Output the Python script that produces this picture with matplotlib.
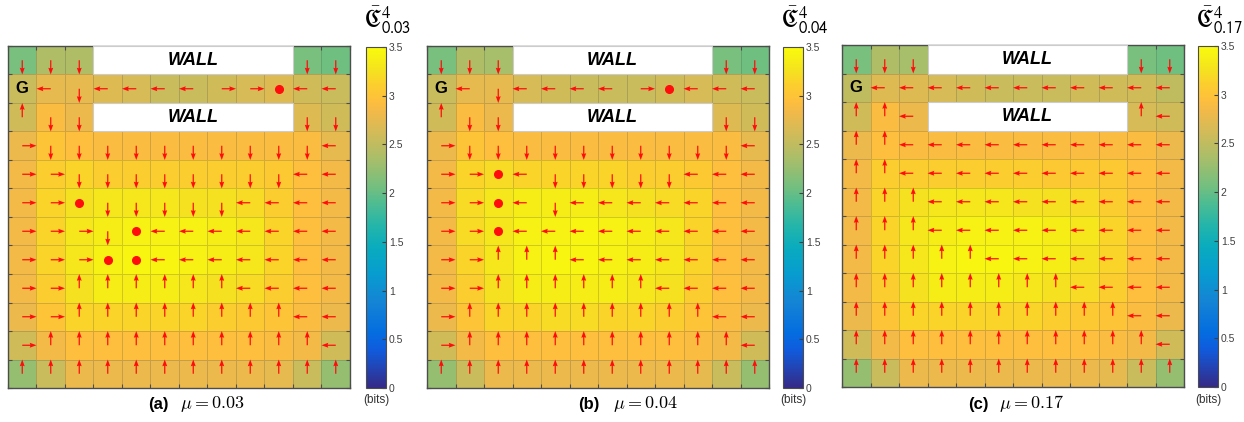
import numpy as np
import matplotlib
matplotlib.use("Agg")
import matplotlib.pyplot as plt
from matplotlib.colors import LinearSegmentedColormap
from matplotlib.patches import Rectangle
from matplotlib.ticker import FuncFormatter

# ---- data ----
W = np.nan
mu_values = ["0.03", "0.04", "0.17"]
panel_tags = ["(a)", "(b)", "(c)"]

# mean empowerment per cell (bits), NaN = wall
emp_a = [
    [2.1, 2.4, 2.4, W, W, W, W, W, W, W, 2.1, 2.05],
    [2.55, 2.75, 2.75, 2.7, 2.65, 2.55, 2.55, 2.6, 2.65, 2.7, 2.6, 2.55],
    [2.6, 2.9, 2.8, W, W, W, W, W, W, W, 2.7, 2.6],
    [2.8, 3.0, 2.95, 2.9, 2.9, 2.9, 2.9, 2.9, 2.9, 2.9, 2.9, 2.75],
    [2.85, 3.1, 3.15, 3.1, 3.1, 3.1, 3.1, 3.1, 3.1, 3.05, 2.95, 2.85],
    [2.85, 3.15, 3.25, 3.3, 3.3, 3.3, 3.25, 3.25, 3.2, 3.1, 2.95, 2.85],
    [2.85, 3.15, 3.3, 3.35, 3.4, 3.4, 3.4, 3.35, 3.3, 3.15, 2.95, 2.85],
    [2.85, 3.15, 3.3, 3.4, 3.45, 3.45, 3.4, 3.35, 3.3, 3.15, 2.95, 2.85],
    [2.85, 3.1, 3.25, 3.35, 3.35, 3.35, 3.3, 3.25, 3.2, 3.1, 2.95, 2.85],
    [2.8, 3.0, 3.15, 3.15, 3.15, 3.15, 3.15, 3.1, 3.05, 3.0, 2.9, 2.8],
    [2.6, 2.85, 2.95, 2.95, 2.95, 2.95, 2.95, 2.95, 2.95, 2.9, 2.85, 2.6],
    [2.25, 2.55, 2.8, 2.8, 2.8, 2.8, 2.8, 2.8, 2.8, 2.75, 2.55, 2.25],
]
emp_b = [
    [2.1, 2.4, 2.35, W, W, W, W, W, W, W, 2.1, 2.05],
    [2.55, 2.75, 2.75, 2.65, 2.6, 2.55, 2.55, 2.55, 2.6, 2.65, 2.6, 2.55],
    [2.6, 2.9, 2.8, W, W, W, W, W, W, W, 2.7, 2.6],
    [2.8, 3.0, 2.95, 2.9, 2.9, 2.9, 2.9, 2.9, 2.9, 2.9, 2.9, 2.75],
    [2.85, 3.15, 3.2, 3.15, 3.15, 3.15, 3.15, 3.1, 3.1, 3.05, 2.95, 2.85],
    [2.85, 3.2, 3.3, 3.35, 3.35, 3.35, 3.3, 3.25, 3.2, 3.15, 2.95, 2.85],
    [2.85, 3.2, 3.3, 3.4, 3.4, 3.45, 3.4, 3.35, 3.3, 3.15, 2.95, 2.85],
    [2.85, 3.15, 3.3, 3.4, 3.45, 3.45, 3.4, 3.35, 3.3, 3.15, 2.95, 2.85],
    [2.85, 3.1, 3.25, 3.35, 3.35, 3.35, 3.35, 3.3, 3.25, 3.1, 2.95, 2.85],
    [2.8, 3.0, 3.15, 3.15, 3.2, 3.2, 3.15, 3.15, 3.1, 3.0, 2.9, 2.8],
    [2.6, 2.85, 2.95, 2.95, 2.95, 2.95, 2.95, 2.95, 2.95, 2.9, 2.85, 2.6],
    [2.25, 2.55, 2.8, 2.8, 2.8, 2.8, 2.8, 2.8, 2.8, 2.75, 2.55, 2.25],
]
emp_c = [
    [2.1, 2.4, 2.35, W, W, W, W, W, W, W, 2.1, 2.05],
    [2.5, 2.7, 2.7, 2.65, 2.6, 2.55, 2.55, 2.55, 2.6, 2.6, 2.6, 2.5],
    [2.6, 2.9, 2.8, W, W, W, W, W, W, W, 2.65, 2.6],
    [2.8, 2.95, 2.9, 2.9, 2.9, 2.9, 2.9, 2.9, 2.9, 2.9, 2.9, 2.8],
    [2.85, 3.1, 3.1, 3.1, 3.1, 3.1, 3.1, 3.05, 3.05, 3.05, 2.95, 2.85],
    [2.85, 3.15, 3.25, 3.3, 3.3, 3.3, 3.25, 3.25, 3.2, 3.1, 2.95, 2.85],
    [2.85, 3.15, 3.3, 3.35, 3.4, 3.4, 3.4, 3.35, 3.3, 3.15, 2.95, 2.85],
    [2.85, 3.15, 3.3, 3.4, 3.45, 3.45, 3.4, 3.35, 3.25, 3.15, 2.95, 2.85],
    [2.85, 3.1, 3.25, 3.35, 3.35, 3.35, 3.3, 3.25, 3.2, 3.1, 2.95, 2.85],
    [2.8, 3.0, 3.15, 3.15, 3.15, 3.15, 3.15, 3.1, 3.05, 3.0, 2.9, 2.8],
    [2.6, 2.85, 2.95, 2.95, 2.95, 2.95, 2.95, 2.95, 2.95, 2.9, 2.85, 2.6],
    [2.25, 2.55, 2.8, 2.8, 2.8, 2.8, 2.8, 2.8, 2.8, 2.75, 2.55, 2.25],
]

# greedy policy per cell: U/D/L/R move, o = stay, W = wall, G = goal
pol_a = ["DDDWWWWWWWDD", "GLDLLLLRRoLL", "UDDWWWWWWWDD", "RDDDDDDDDDDL",
         "RRDDDDDDDDLL", "RRoDDDDDLLLL", "RRRDoLLLLLLL", "RRRooLLLLLLL",
         "RRUUUUUULLLL", "RRUUUUUUUULL", "RUUUUUUUUUUL", "UUUUUUUUUUUU"]
pol_b = ["DDDWWWWWWWDD", "GLDLLLLRoLLL", "UDDWWWWWWWDD", "RDDDDDDDDDDL",
         "RRoLDDDDDLLL", "RRoLDLLLLLLL", "RRoLLLLLLLLL", "RRUUULLLLLLL",
         "RRUUUUUULLLL", "RUUUUUUUUULL", "RUUUUUUUUUUL", "UUUUUUUUUUUU"]
pol_c = ["DDDWWWWWWWDD", "GLLLLLLLLLLL", "UULWWWWWWWUL", "UULLLLLLLLLL",
         "UULLLLLLLLLL", "UUULLLLLLLLL", "UUULLLLLLLLL", "UUUUULLLLLLL",
         "UUUUUUUULLLL", "UUUUUUUUUULL", "UUUUUUUUUUUL", "UUUUUUUUUUUU"]

emps = [emp_a, emp_b, emp_c]
pols = [pol_a, pol_b, pol_c]

# ---- style ----
# parula-like colormap (position, rgb)
parula = LinearSegmentedColormap.from_list("parula", [
    (0.000, (0.2081, 0.1663, 0.5292)), (0.111, (0.0591, 0.3598, 0.8683)),
    (0.159, (0.0165, 0.4266, 0.8786)), (0.254, (0.0793, 0.5200, 0.8312)),
    (0.333, (0.0265, 0.6137, 0.8135)), (0.413, (0.0384, 0.6743, 0.7436)),
    (0.476, (0.1453, 0.7098, 0.6646)), (0.540, (0.3022, 0.7376, 0.5712)),
    (0.587, (0.4420, 0.7481, 0.5033)), (0.667, (0.6473, 0.7456, 0.4188)),
    (0.746, (0.8185, 0.7327, 0.3498)), (0.810, (0.9450, 0.7261, 0.2886)),
    (0.841, (0.9938, 0.7455, 0.2403)), (0.889, (0.9880, 0.8066, 0.1794)),
    (0.937, (0.9589, 0.8949, 0.1132)), (1.000, (0.9763, 0.9831, 0.0538))])

sans = "Liberation Sans"
FW, FH = 1244, 422
ax_px = [(8, 388), (427, 388), (842, 387)]      # left, bottom (from top) in px
cb_px = [366, 783, 1198]
tag_px = [148, 578, 968]
mu_px = [180, 613, 999]
edge = (0.3, 0.3, 0.3)

fig = plt.figure(figsize=(FW / 100, FH / 100), dpi=100)

steps = {"U": (0, -0.5), "D": (0, 0.5), "L": (-0.5, 0), "R": (0.5, 0)}

for k in range(3):
    x0, yb = ax_px[k]
    ax = fig.add_axes([x0 / FW, 1 - yb / FH, 342 / FW, 342 / FH])
    vals = np.ma.masked_invalid(np.array(emps[k], dtype=float))
    mesh = ax.pcolormesh(np.arange(13), np.arange(13), vals, cmap=parula,
                         vmin=0, vmax=3.5, edgecolors=(0.25, 0.25, 0.25, 0.22),
                         linewidth=0.6)
    ax.set_xlim(0, 12)
    ax.set_ylim(12, 0)

    # walls
    for r in (0, 2):
        ax.add_patch(Rectangle((3, r), 7, 1, facecolor="white",
                               edgecolor=(0.8, 0.8, 0.8), lw=0.8, zorder=3))
        ax.text(6.5, r + 0.5, "WALL", ha="center", va="center", fontsize=13,
                fontweight="bold", fontstyle="italic", family=sans, zorder=4)

    xs, ys, us, vs, dots = [], [], [], [], []
    for r, row in enumerate(pols[k]):
        for c, ch in enumerate(row):
            if ch in steps:
                xs.append(c + 0.5)
                ys.append(r + 0.5)
                us.append(steps[ch][0])
                vs.append(steps[ch][1])
            elif ch == "o":
                dots.append((c + 0.5, r + 0.5))
            elif ch == "G":
                ax.text(c + 0.5, r + 0.5, "G", ha="center", va="center",
                        fontsize=12, fontweight="bold", family=sans, zorder=4)
    ax.quiver(xs, ys, us, vs, angles="xy", scale_units="xy", scale=1,
              pivot="tail", color=(1, 0.05, 0.05), width=0.0036, headwidth=4,
              headlength=5.5, headaxislength=5, zorder=5)
    if dots:
        dx, dy = zip(*dots)
        ax.plot(dx, dy, "o", color=(1, 0.05, 0.05), ms=5.5, zorder=5)

    ax.set_xticks(range(13))
    ax.set_yticks(range(13))
    ax.set_xticklabels([])
    ax.set_yticklabels([])
    ax.tick_params(direction="in", length=3, color=edge, top=True, right=True)
    for s in ax.spines.values():
        s.set_color(edge)
        s.set_linewidth(1.0)

    # colorbar
    cax = fig.add_axes([cb_px[k] / FW, 1 - yb / FH, 20 / FW, 341 / FH])
    cb = fig.colorbar(mesh, cax=cax, ticks=np.arange(0, 3.51, 0.5))
    cb.ax.yaxis.set_major_formatter(FuncFormatter(lambda v, p: "%g" % v))
    cb.ax.tick_params(direction="in", length=3, labelsize=7.5,
                      colors=(0.25, 0.25, 0.25), pad=2)
    for t in cb.ax.get_yticklabels():
        t.set_family(sans)
    cb.outline.set_edgecolor(edge)
    cb.outline.set_linewidth(0.8)

    fig.text((cb_px[k] - 2) / FW, 1 - 20 / FH,
             r"$\bar{\mathfrak{C}}^{4}_{\mathsf{" + mu_values[k] + "}}$",
             fontsize=17, math_fontfamily="stix", ha="left", va="center")
    fig.text((cb_px[k] + 10) / FW, 1 - 400 / FH, "(bits)", family=sans,
             fontsize=8.5, ha="center", va="center", color=(0.2, 0.2, 0.2))

    # caption
    fig.text(tag_px[k] / FW, 1 - 404 / FH, panel_tags[k], family=sans,
             fontsize=12, fontweight="bold", ha="left", va="center")
    fig.text(mu_px[k] / FW, 1 - 404 / FH, r"$\mu = " + mu_values[k] + "$",
             fontsize=13, math_fontfamily="cm", ha="left", va="center")

fig.savefig("out.png", dpi=100)
